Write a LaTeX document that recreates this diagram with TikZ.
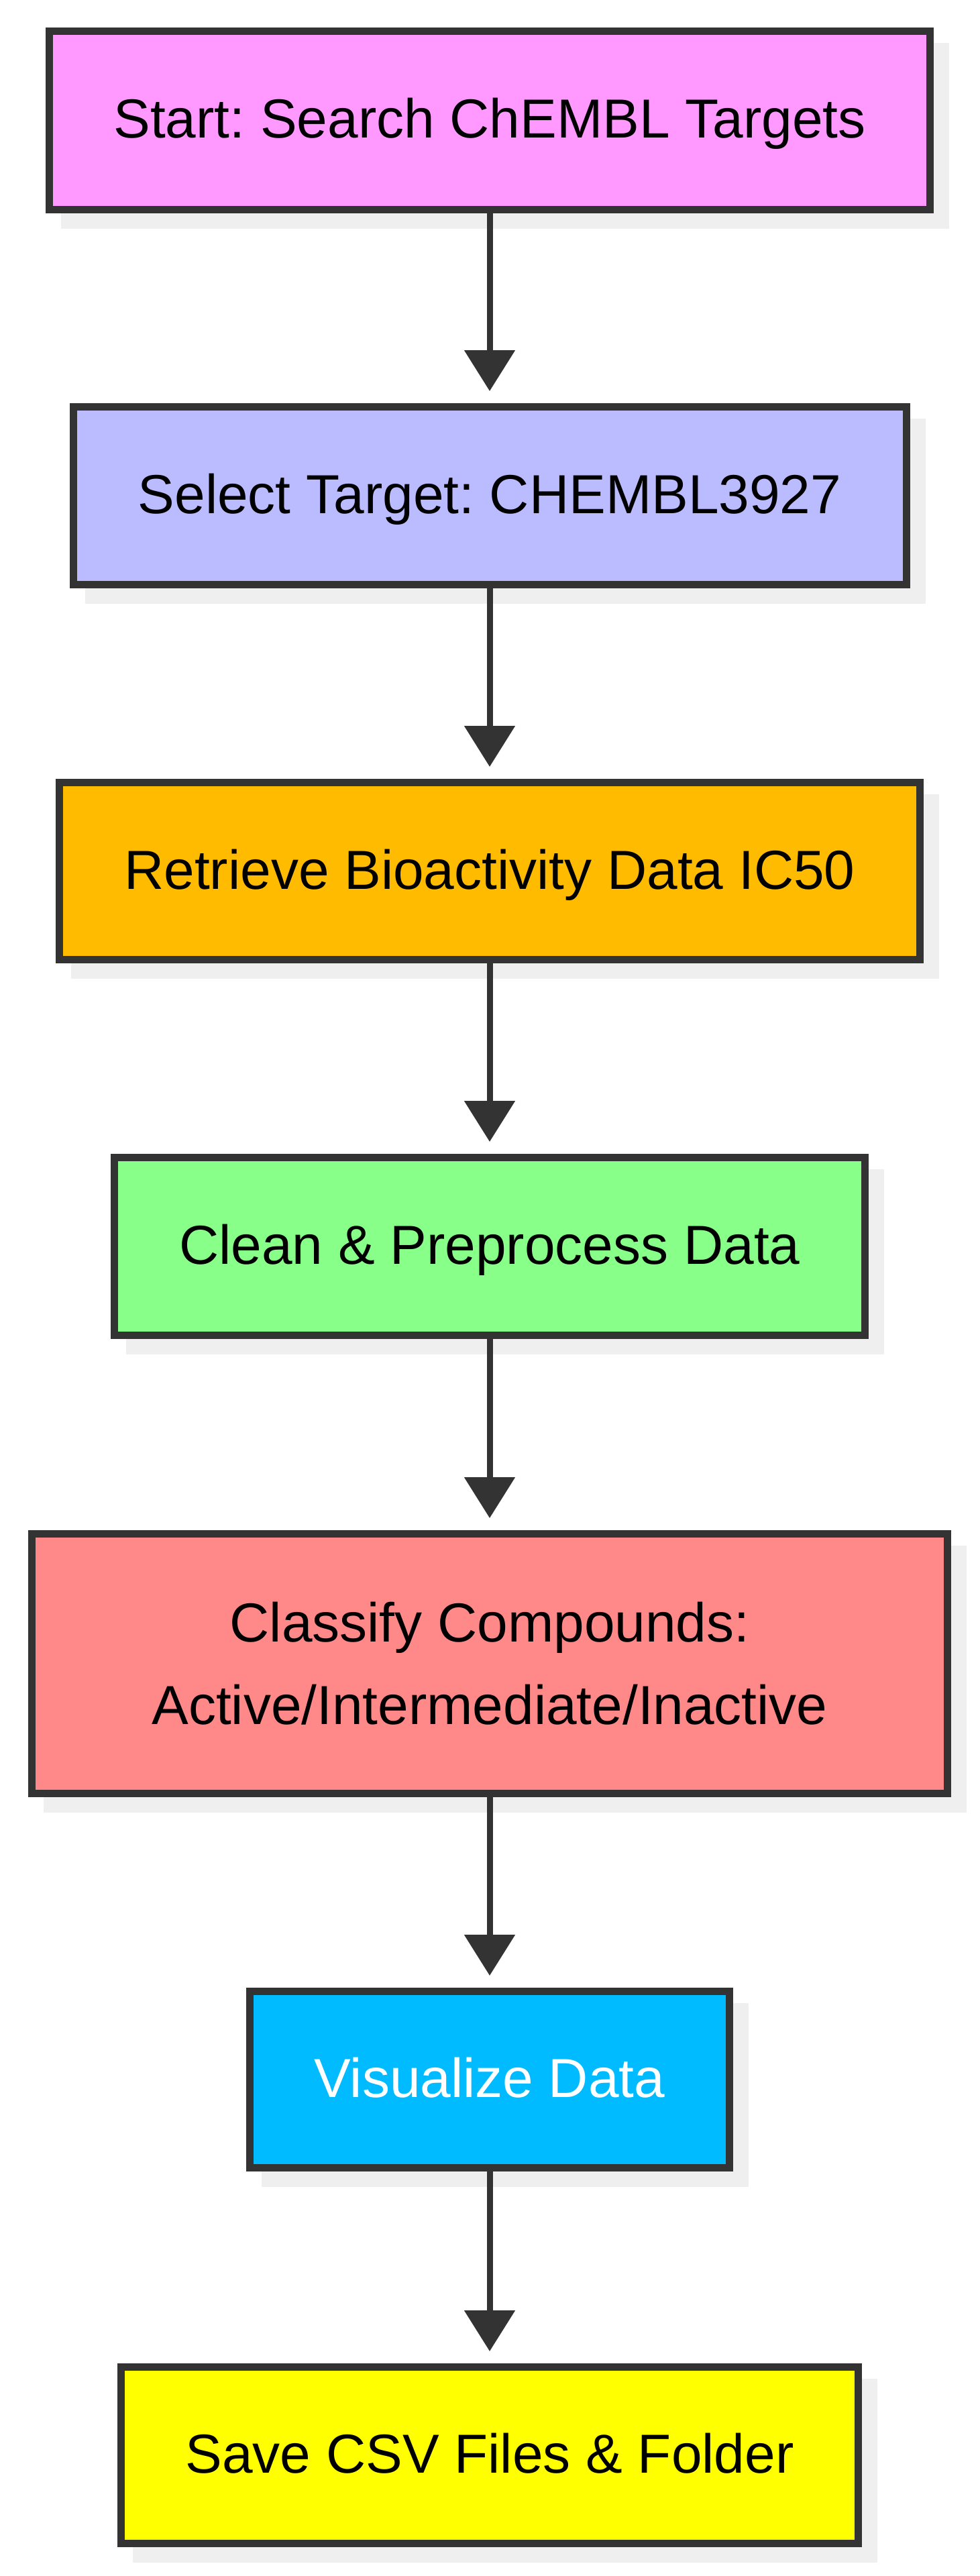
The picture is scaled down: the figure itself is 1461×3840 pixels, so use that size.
\documentclass[tikz,border=0pt]{standalone}
\usepackage{fontspec}
\setmainfont{Liberation Sans}
\frenchspacing
\usetikzlibrary{arrows.meta,backgrounds}
\definecolor{cPink}{HTML}{FF99FF}
\definecolor{cLav}{HTML}{BBBBFF}
\definecolor{cOrange}{HTML}{FFBB00}
\definecolor{cGreen}{HTML}{88FF88}
\definecolor{cSalmon}{HTML}{FF8888}
\definecolor{cCyan}{HTML}{00BBFF}
\definecolor{cYellow}{HTML}{FFFF00}
\definecolor{cBorder}{HTML}{333333}
\definecolor{cShadow}{HTML}{EFEFEF}
\tikzset{
  flowbox/.style={draw=cBorder, line width=11pt, rectangle, inner sep=0pt,
    font=\fontsize{82}{123}\selectfont, text=black},
  oneline/.style={text height=62pt, text depth=9pt},
  flowarrow/.style={draw=cBorder, line width=9pt,
    -{Triangle[length=61pt,width=74pt]}},
}
\newcommand{\boxshadow}[1]{%
  \fill[cShadow] ([shift={(23pt,-23pt)}]#1.south west) rectangle ([shift={(23pt,-23pt)}]#1.north east);}
\begin{document}
\begin{tikzpicture}[x=1pt,y=-1pt]
\useasboundingbox (0,0) rectangle (1461,3840);
\node[flowbox, oneline, fill=cPink, minimum width=1313pt, minimum height=266pt] (b1) at (730,179.5) {Start: Search ChEMBL Targets};
\node[flowbox, oneline, fill=cLav, minimum width=1242pt, minimum height=265pt] (b2) at (730,739) {Select Target: CHEMBL3927};
\node[flowbox, oneline, fill=cOrange, minimum width=1283pt, minimum height=264pt] (b3) at (730,1298.5) {Retrieve Bioactivity Data IC50};
\node[flowbox, oneline, fill=cGreen, minimum width=1119pt, minimum height=265pt] (b4) at (730,1858) {Clean \& Preprocess Data};
\node[flowbox, align=center, fill=cSalmon, minimum width=1365pt, minimum height=387pt] (b5) at (730,2480) {Classify Compounds:\\Active/Intermediate/Inactive};
\node[flowbox, oneline, fill=cCyan, text=white, minimum width=715pt, minimum height=263pt] (b6) at (730,3100) {Visualize Data};
\node[flowbox, oneline, fill=cYellow, minimum width=1099pt, minimum height=263pt] (b7) at (730,3660) {Save CSV Files \& Folder};
\begin{scope}[on background layer]
\fill[white] (0,0) rectangle (1461,3840);
\boxshadow{b1}
\boxshadow{b2}
\boxshadow{b3}
\boxshadow{b4}
\boxshadow{b5}
\boxshadow{b6}
\boxshadow{b7}
\end{scope}
\draw[flowarrow] (b1.south) -- ([yshift=18pt]b2.north);
\draw[flowarrow] (b2.south) -- ([yshift=18pt]b3.north);
\draw[flowarrow] (b3.south) -- ([yshift=18pt]b4.north);
\draw[flowarrow] (b4.south) -- ([yshift=18pt]b5.north);
\draw[flowarrow] (b5.south) -- ([yshift=18pt]b6.north);
\draw[flowarrow] (b6.south) -- ([yshift=18pt]b7.north);
\end{tikzpicture}
\end{document}
